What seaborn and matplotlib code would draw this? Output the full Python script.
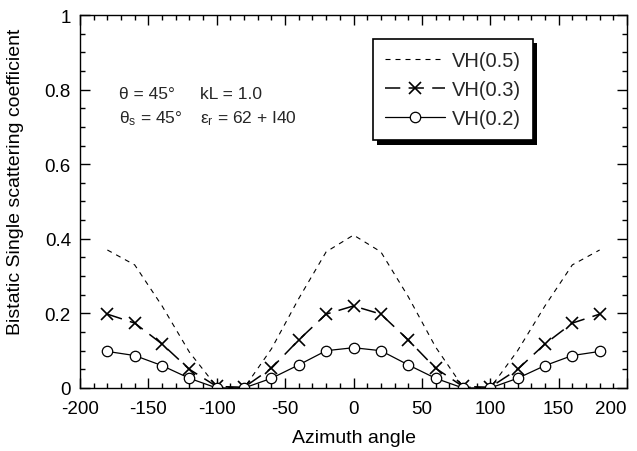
import matplotlib
matplotlib.use("Agg")
import matplotlib.pyplot as plt
import seaborn as sns
from matplotlib.patches import Rectangle
from matplotlib.ticker import MultipleLocator, FuncFormatter
from matplotlib.transforms import IdentityTransform


# ==============================================================
# DATA
# ==============================================================

azimuth = [-180, -160, -140, -120, -100, -80, -60, -40, -20, 0,
           20, 40, 60, 80, 100, 120, 140, 160, 180]

vh_05 = [0.370, 0.330, 0.220, 0.096, 0.003, 0.000, 0.105, 0.240, 0.365, 0.410,
         0.365, 0.245, 0.110, 0.003, 0.000, 0.100, 0.220, 0.330, 0.370]

vh_03 = [0.198, 0.174, 0.118, 0.050, 0.004, 0.002, 0.053, 0.129, 0.198, 0.220,
         0.198, 0.129, 0.053, 0.004, 0.002, 0.050, 0.118, 0.174, 0.198]

vh_02 = [0.098, 0.087, 0.060, 0.026, 0.000, 0.000, 0.026, 0.062, 0.100, 0.108,
         0.100, 0.062, 0.026, 0.000, 0.000, 0.026, 0.060, 0.087, 0.098]

labels = ["VH(0.5)", "VH(0.3)", "VH(0.2)"]


# ==============================================================
# STYLE
# ==============================================================

sns.set_theme(style="ticks")
plt.rcParams['font.family'] = ['Liberation Sans', 'DejaVu Sans']
plt.rcParams['mathtext.fontset'] = 'custom'
plt.rcParams['mathtext.rm'] = 'Liberation Sans'
plt.rcParams['mathtext.it'] = 'Liberation Sans'
plt.rcParams['axes.unicode_minus'] = False
plt.rcParams['lines.scale_dashes'] = False

TICK_FS = 13.5
LABEL_FS = 14
LEG_FS = 14.5
NOTE_FS = 12.5

fig = plt.figure(figsize=(6.37, 4.52), dpi=100)
ax = fig.add_axes([0.1256, 0.1394, 0.8587, 0.8252])


# ==============================================================
# PLOT
# ==============================================================

sns.lineplot(x=azimuth, y=vh_05, ax=ax, color="black", lw=0.8,
             linestyle=(0, (3.6, 3.6)), label=labels[0])
sns.lineplot(x=azimuth, y=vh_03, ax=ax, color="black", lw=1.1,
             linestyle=(0, (11, 6)), marker="x", markersize=9,
             markeredgewidth=1.2, markeredgecolor="black", label=labels[1])
sns.lineplot(x=azimuth, y=vh_02, ax=ax, color="black", lw=0.9,
             marker="o", markersize=7.5, markerfacecolor="white",
             markeredgewidth=0.9, markeredgecolor="black", label=labels[2])

ax.set_xlim(-200, 200)
ax.set_ylim(0, 1)
ax.xaxis.set_major_locator(MultipleLocator(50))
ax.xaxis.set_minor_locator(MultipleLocator(10))
ax.yaxis.set_major_locator(MultipleLocator(0.2))
ax.yaxis.set_minor_locator(MultipleLocator(0.05))
ax.yaxis.set_major_formatter(FuncFormatter(lambda v, p: f"{v:g}"))

ax.tick_params(which="both", direction="in", top=True, right=True,
               labelsize=TICK_FS, width=1.0, color="black", labelcolor="black")
ax.tick_params(which="major", length=7)
ax.tick_params(which="minor", length=3.5)
ax.tick_params(axis="x", which="major", pad=8.5)
ax.tick_params(axis="y", which="major", pad=6.5)
for s in ax.spines.values():
    s.set_linewidth(1.0)
    s.set_color("black")

ax.set_xlabel("Azimuth angle", fontsize=LABEL_FS, color="black")
ax.set_ylabel("Bistatic Single scattering coefficient", fontsize=LABEL_FS, color="black")
ax.xaxis.set_label_coords(0.5, -0.109)
ax.yaxis.set_label_coords(-0.102, 0.555)

# parameter annotation
ax.text(-171.5, 0.777, "θ = 45°", fontsize=NOTE_FS, va="baseline")
ax.text(-112, 0.777, "kL = 1.0", fontsize=NOTE_FS, va="baseline")
ax.text(-171.5, 0.713, "θ$_\\mathrm{s}$ = 45°", fontsize=NOTE_FS, va="baseline")
ax.text(-112, 0.713, "ε$_\\mathrm{r}$ = 62 + I40", fontsize=NOTE_FS, va="baseline")

leg = ax.legend(loc="upper left", bbox_to_anchor=(0.5356, 0.9357),
                fontsize=LEG_FS, frameon=True, fancybox=False, framealpha=1,
                edgecolor="black", handlelength=3.0, handletextpad=0.3,
                labelspacing=0.5, borderpad=0.6, borderaxespad=0)
leg.get_frame().set_linewidth(1.2)

# black drop shadow behind the legend box
fig.canvas.draw()
bb = leg.get_frame().get_window_extent()
ax.add_patch(Rectangle((bb.x0 + 4.5, bb.y0 - 4.5), bb.width, bb.height,
                       transform=IdentityTransform(), facecolor="black",
                       edgecolor="none", zorder=4.5, clip_on=False))

# keep the last x tick label ("200") inside the picture, as in the reference
for tick in ax.xaxis.get_major_ticks():
    if tick.label1.get_text() == "200":
        tick.label1.set_horizontalalignment("right")
        tick.label1.set_x(tick.label1.get_position()[0] + 2)

fig.savefig("out.png", dpi=100)
